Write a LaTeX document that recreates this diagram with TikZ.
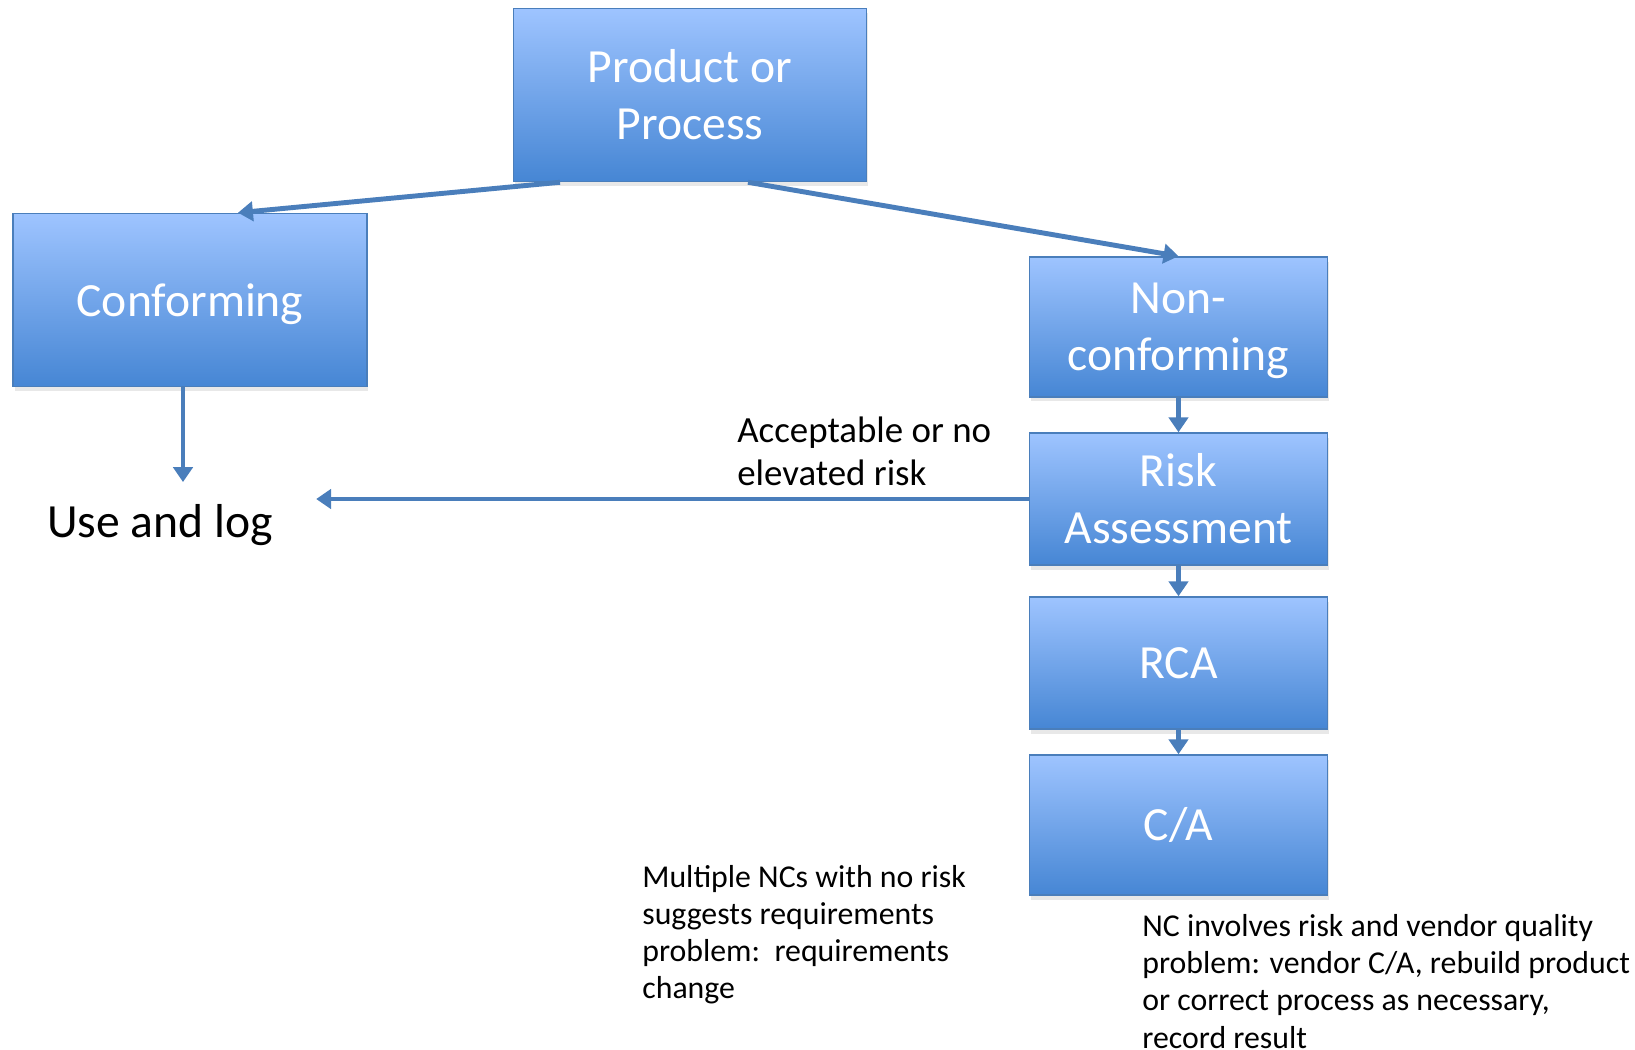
\documentclass[tikz,border=0pt]{standalone}
\usepackage{fontspec}
\setmainfont{Carlito}
\usepackage{tikz}
\usetikzlibrary{arrows.meta,shadows}

\definecolor{boxtop}{RGB}{158,196,255}
\definecolor{boxbottom}{RGB}{70,134,212}
\definecolor{boxline}{RGB}{74,126,187}

\begin{document}
\begin{tikzpicture}[x=0.02cm,y=-0.02cm,
		box/.style={draw=boxline, line width=0.9pt, top color=boxtop, bottom color=boxbottom, text=white, align=center, inner sep=0pt, font=\fontsize{27.1}{32.3}\selectfont, drop shadow={shadow xshift=0.03cm, shadow yshift=-0.09cm, opacity=0.18}},
		flow/.style={draw=boxline, line width=2.8pt, -{Triangle[width=11pt,length=8.5pt]}},
		note/.style={align=left, inner sep=0pt, anchor=base west}]
		% pixel grid of the slide, notes sit on their last baseline
		\useasboundingbox (0,0) rectangle (1635,1049);
		\node[box, minimum width=7.06cm, minimum height=3.46cm] (prod) at (690,95) {Product or\\Process};
		\node[box, minimum width=7.08cm, minimum height=3.46cm, text depth=0pt] (conf) at (190,300) {Conforming};
		\node[box, minimum width=5.96cm, minimum height=2.8cm, text depth=0pt] (nonconf) at (1178.5,327) {Non-\\conforming};
		\node[box, minimum width=5.96cm, minimum height=2.64cm] (risk) at (1178.5,499) {Risk\\Assessment};
		\node[box, minimum width=5.96cm, minimum height=2.64cm] (rca) at (1178.5,663) {RCA};
		\node[box, minimum width=5.96cm, minimum height=2.8cm] (ca) at (1178.5,825) {C/A};
		\node[font=\fontsize{27.1}{32}\selectfont, inner xsep=0.86cm, inner ysep=0.44cm] (use) at (160,525) {Use and log};
		\draw[flow] ([xshift=-2.6cm]prod.south) -- ([xshift=0.96cm]conf.north);
		\draw[flow] ([xshift=1.16cm]prod.south) -- (nonconf.north);
		\draw[flow] ([xshift=-0.14cm]conf.south) -- ([xshift=-0.14cm]conf.south |- use.north);
		\draw[flow] (nonconf) -- (risk);
		\draw[flow] (risk) -- (rca);
		\draw[flow] (rca) -- (ca);
		\draw[flow] (risk.west) -- (risk.west -| use.east);
		\node[note, font=\fontsize{21}{24.4}\selectfont] (accept) at (737,485) {Acceptable or no\\elevated risk};
		\node[note, font=\fontsize{18.1}{21}\selectfont] (reqnote) at (642,998) {Multiple NCs with no risk\\suggests requirements\\problem:\ \ requirements\\change};
		\node[note, font=\fontsize{18.1}{21.2}\selectfont] (vendnote) at (1142,1048) {NC involves risk and vendor quality\\problem: vendor C/A, rebuild product\\or correct process as necessary,\\record result};
	\end{tikzpicture}
\end{document}
